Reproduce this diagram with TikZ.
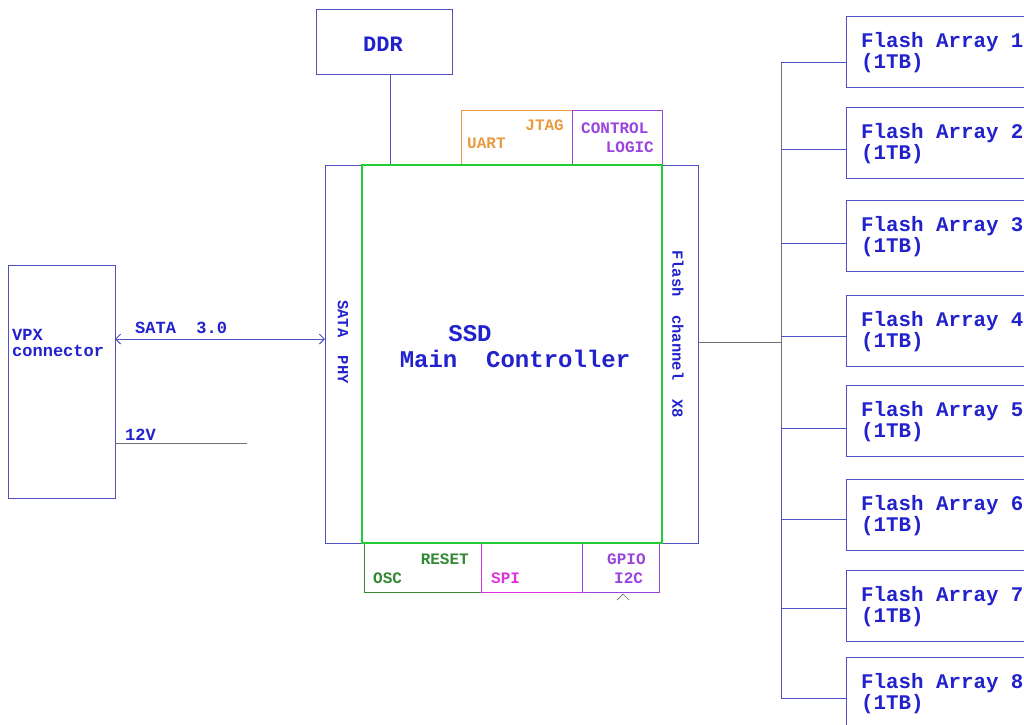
\documentclass[tikz,border=0pt]{standalone}
\usepackage{fontspec}
\setmonofont{Liberation Mono}
\usetikzlibrary{arrows.meta}
\definecolor{txtblue}{HTML}{2222CC}
\definecolor{boxblue}{HTML}{5050C0}
\definecolor{maingreen}{HTML}{22CC33}
\definecolor{dkgreen}{HTML}{338833}
\definecolor{orng}{HTML}{E89A40}
\definecolor{purp}{HTML}{9944DD}
\definecolor{magn}{HTML}{DD33DD}
\definecolor{wire}{HTML}{707070}
\tikzset{
  blk/.style={draw=boxblue, line width=0.9pt},
  lbl/.style={font=\ttfamily\bfseries\fontsize{17}{19}\selectfont, text=txtblue, inner sep=0pt},
  sml/.style={lbl, font=\ttfamily\bfseries\fontsize{16}{17}\selectfont},
  biglbl/.style={font=\ttfamily\bfseries\fontsize{22}{22}\selectfont, text=txtblue, inner sep=0pt},
  fa/.style={font=\ttfamily\bfseries\fontsize{20.8}{21}\selectfont, text=txtblue, inner sep=0pt, align=left, anchor=north west},
  bus/.style={draw=boxblue, line width=0.8pt},
}
\begin{document}
\begin{tikzpicture}[x=1pt,y=-1pt]
\useasboundingbox (0,0) rectangle (1024,724);
% DDR
\draw[blk] (316,9) rectangle (452,74);
\node[biglbl] (ddr) at (383,44) {DDR};
\coordinate (ddrb) at (390,74);
\coordinate (mct) at (390,165);
\draw[draw=boxblue, line width=0.9pt] (ddrb) -- (mct);
% side boxes
\draw[blk] (325,165) rectangle (362,543);
\draw[blk] (662,165) rectangle (698,543);
\node[lbl, rotate=-90, font=\ttfamily\bfseries\fontsize{15.5}{17}\selectfont] (phy) at (343,342) {SATA\ \ PHY};
\node[lbl, rotate=-90, font=\ttfamily\bfseries\fontsize{15.5}{17}\selectfont] (fch) at (678,334) {Flash\ \ channel\ \ X8};
% top small boxes
\draw[draw=orng, line width=0.9pt] (461,110) rectangle (572,165);
\draw[draw=purp, line width=0.9pt] (572,110) rectangle (662,165);
\node[sml, text=orng, anchor=base east] (jtag) at (564,130) {JTAG};
\node[sml, text=orng, anchor=base west] (uart) at (467,148) {UART};
\node[sml, text=purp, anchor=base west] (ctl) at (581,133) {CONTROL};
\node[sml, text=purp, anchor=base east] (logic) at (654,152) {LOGIC};
% bottom small boxes
\draw[draw=dkgreen, line width=0.9pt] (364,543) rectangle (481,592);
\draw[draw=magn, line width=0.9pt] (481,543) rectangle (582,592);
\draw[draw=purp, line width=0.9pt] (582,543) rectangle (659,592);
\node[sml, text=dkgreen, anchor=base east] (reset) at (469,564) {RESET};
\node[sml, text=dkgreen, anchor=base west] (osc) at (373,583) {OSC};
\node[sml, text=magn, anchor=base west] (spi) at (491,583) {SPI};
\node[sml, text=purp, anchor=base west] (gpio) at (607,564) {GPIO};
\node[sml, text=purp, anchor=base west] (i2c) at (614,583) {I2C};
\draw[draw=wire, line width=0.7pt] (617,600) -- (623,594) -- (629,600);
% main controller
\draw[draw=maingreen, line width=1.8pt] (362,165) rectangle (662,543);
\node[biglbl, font=\ttfamily\bfseries\fontsize{24}{24}\selectfont] (ssd) at (470,334) {SSD};
\node[biglbl, font=\ttfamily\bfseries\fontsize{24}{24}\selectfont] (mc) at (515,359) {Main\ \ Controller};
% VPX
\draw[blk] (8,265) rectangle (115,498);
\node[lbl, anchor=base west, align=left] (vpx) at (12,340) {VPX};
\node[lbl, anchor=base west, align=left] (conn) at (12,356) {connector};
\coordinate (vpxs) at (115,339);
\coordinate (phys) at (325,339);
\draw[draw=boxblue, line width=0.9pt, {Straight Barb[length=5pt,width=10pt]}-{Straight Barb[length=5pt,width=10pt]}] (vpxs) -- (phys);
\node[lbl, anchor=base west] (sata) at (135,333) {SATA\ \ 3.0};
\coordinate (v12a) at (115,443);
\coordinate (v12b) at (247,443);
\draw[draw=wire, line width=0.9pt] (v12a) -- (v12b);
\node[lbl, anchor=base west] (v12) at (125,440) {12V};
% flash bus
\coordinate (fchr) at (698,342);
\coordinate (busm) at (781,342);
\draw[draw=wire, line width=1pt] (fchr) -- (busm);
\coordinate (bustop) at (781,62);
\coordinate (busbot) at (781,698);
\coordinate (busmid) at (781,427);
\draw[draw=wire, line width=1pt] (bustop) -- (busmid);
\draw[bus] (busmid) -- (busbot);
\foreach \i/\yt/\yb/\ys in {1/16/87/62, 2/107/178/149, 3/200/271/243, 4/295/366/336, 5/385/456/428, 6/479/550/519, 7/570/641/608, 8/657/740/698} {
  \draw[blk] (846,\yt) rectangle (1040,\yb);
  \node[fa] (fa\i) at (861,\yt+16) {Flash Array \i\\(1TB)};
  \coordinate (s\i) at (781,\ys);
  \coordinate (e\i) at (846,\ys);
  \draw[bus] (s\i) -- (e\i);
}
\end{tikzpicture}
\end{document}
